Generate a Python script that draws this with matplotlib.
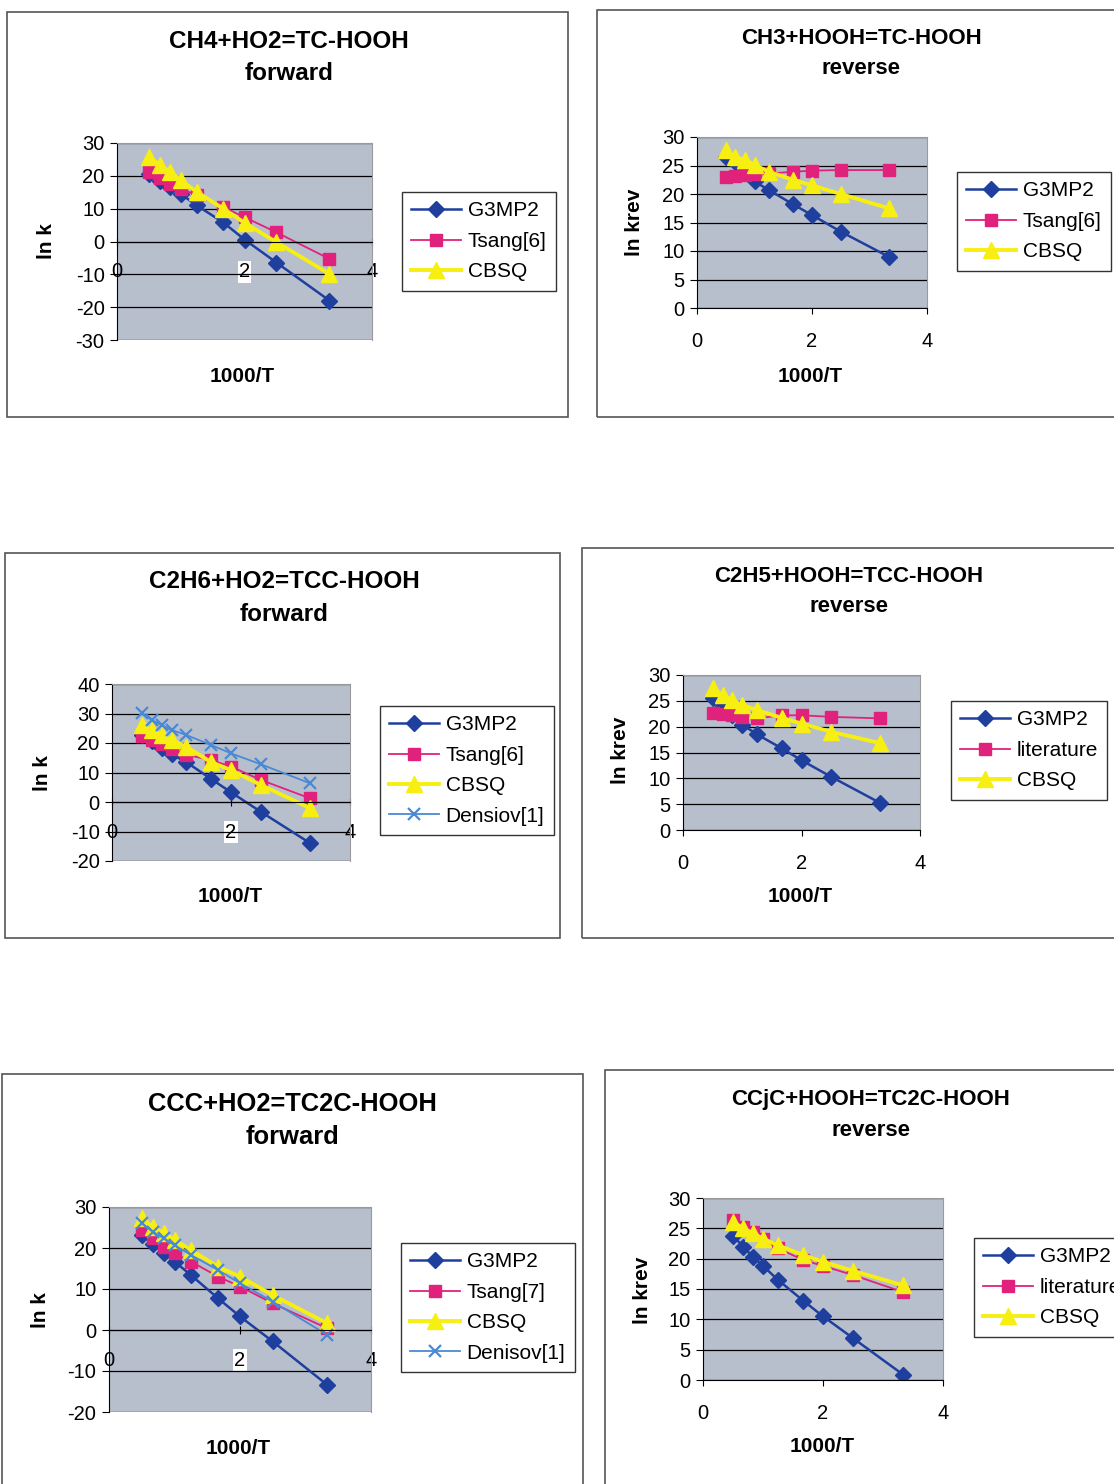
import matplotlib
matplotlib.use('Agg')
import matplotlib.pyplot as plt
from matplotlib.patches import Rectangle

plt.rcParams['font.family'] = ['Liberation Sans', 'DejaVu Sans']
plt.rcParams['axes.unicode_minus'] = False

W, H = 1114, 1484

# 1000/T values (T = 2000 ... 300 K)
x = [0.5, 0.667, 0.833, 1.0, 1.25, 1.667, 2.0, 2.5, 3.333]

# CH4+HO2=TC-HOOH forward
p1_g3mp2 = [20.5, 18.5, 16.5, 14.5, 11.0, 5.8, 0.6, -6.4, -18.0]
p1_tsang = [21.2, 19.2, 17.6, 16.1, 14.1, 10.5, 7.4, 2.8, -5.3]
p1_cbsq = [25.8, 23.4, 21.2, 18.7, 15.1, 10.0, 5.7, -0.2, -9.9]

# CH3+HOOH=TC-HOOH reverse
p2_g3mp2 = [26.5, 25.7, 24.0, 22.2, 20.7, 18.2, 16.3, 13.4, 9.0]
p2_tsang = [23.0, 23.2, 23.3, 23.5, 23.6, 23.9, 24.1, 24.2, 24.2]
p2_cbsq = [27.7, 26.5, 26.0, 25.1, 23.9, 22.5, 21.5, 20.0, 17.5]

# C2H6+HO2=TCC-HOOH forward
p3_g3mp2 = [22.8, 20.6, 18.4, 16.2, 13.5, 7.8, 3.3, -3.3, -14.0]
p3_tsang = [22.5, 21.0, 19.5, 18.0, 16.0, 14.2, 12.0, 7.5, 1.2]
p3_cbsq = [26.1, 24.4, 22.7, 21.0, 18.7, 13.5, 10.8, 5.8, -2.1]
p3_denisov = [30.1, 27.8, 26.1, 24.4, 22.7, 19.3, 16.5, 12.8, 6.3]

# C2H5+HOOH=TCC-HOOH reverse
p4_g3mp2 = [25.5, 24.0, 22.3, 20.4, 18.5, 15.8, 13.5, 10.3, 5.2]
p4_lit = [22.6, 22.4, 22.2, 21.9, 21.6, 22.2, 22.2, 21.9, 21.6]
p4_cbsq = [27.4, 26.1, 25.1, 24.2, 23.2, 21.7, 20.6, 19.0, 16.8]

# CCC+HO2=TC2C-HOOH forward
p5_g3mp2 = [23.2, 20.9, 18.9, 16.7, 13.4, 7.7, 3.3, -2.8, -13.4]
p5_tsang = [24.4, 22.4, 20.3, 18.7, 16.7, 13.0, 10.6, 6.5, 0.4]
p5_cbsq = [27.2, 25.2, 23.6, 22.0, 19.5, 15.4, 13.0, 8.5, 1.6]
p5_denisov = [26.0, 24.0, 22.4, 20.7, 18.3, 14.6, 11.4, 6.9, -1.2]

# CCjC+HOOH=TC2C-HOOH reverse
p6_g3mp2 = [23.8, 22.0, 20.3, 18.8, 16.5, 13.1, 10.5, 6.9, 0.9]
p6_lit = [26.4, 25.3, 24.4, 23.3, 21.7, 19.8, 18.8, 17.3, 14.5]
p6_cbsq = [26.1, 25.0, 24.2, 23.3, 22.2, 20.6, 19.5, 18.0, 15.6]

styles = {
    'G3MP2': dict(color='#1f3f9f', marker='D', ms=8, lw=1.8),
    'Tsang': dict(color='#e0227c', marker='s', ms=9, lw=1.3),
    'CBSQ': dict(color='#f7ef12', marker='^', ms=11, lw=2.8),
    'Denisov': dict(color='#4a8ad4', marker='x', ms=9, mew=1.6, lw=1.3),
}


def fx(px):
    return px / W


def fy(py):
    return 1 - py / H


def panel(box, plot, title, sub, tpos, tsize, ylab, ylpos, xlpos, leg_xy,
          series, ylim, ystep, cross0):
    # outer chart border
    fig.add_artist(Rectangle((fx(box[0]), fy(box[3])), fx(box[2] - box[0]),
                             (box[3] - box[1]) / H, transform=fig.transFigure,
                             fill=False, ec='#555555', lw=1.2))
    fig.text(fx(tpos[0]), fy(tpos[1]), title, ha='center', va='center',
             fontsize=tsize, fontweight='bold')
    fig.text(fx(tpos[0]), fy(tpos[2]), sub, ha='center', va='center',
             fontsize=tsize, fontweight='bold')
    fig.text(fx(ylpos[0]), fy(ylpos[1]), ylab, rotation=90, ha='center',
             va='center', fontsize=15, fontweight='bold')
    fig.text(fx(xlpos[0]), fy(xlpos[1]), '1000/T', ha='center', va='center',
             fontsize=15, fontweight='bold')

    ax = fig.add_axes([fx(plot[0]), fy(plot[3]), fx(plot[2] - plot[0]),
                       (plot[3] - plot[1]) / H])
    ax.set_facecolor('#b7bfcd')
    for name, key, vals in series:
        ax.plot(x, vals, label=name, **styles[key])
    ax.set_xlim(0, 4)
    ax.set_ylim(*ylim)
    ax.set_xticks([0, 2, 4])
    ax.set_yticks(range(ylim[0], ylim[1] + 1, ystep))
    ax.grid(axis='y', color='black', lw=0.9)
    ax.set_axisbelow(True)
    for s in ['top', 'right']:
        ax.spines[s].set_color('#9a9a9a')
    ax.tick_params(axis='y', direction='out', length=5, labelsize=14.5, pad=4)
    if cross0:
        ax.spines['bottom'].set_position(('data', 0))
        ax.tick_params(axis='x', direction='inout', length=6, labelsize=14.5,
                       pad=12)
        ax.get_xticklabels()[1].set_bbox(dict(fc='white', ec='none', pad=1))
    else:
        ax.tick_params(axis='x', direction='out', length=4, labelsize=14.5,
                       pad=13)

    ax.legend(loc='upper left', bbox_to_anchor=(fx(leg_xy[0]), fy(leg_xy[1])),
              bbox_transform=fig.transFigure, borderaxespad=0, fontsize=15,
              frameon=True, fancybox=False, edgecolor='#333333',
              framealpha=1, handlelength=2.4, handletextpad=0.3,
              labelspacing=0.55, borderpad=0.45)
    return ax


fig = plt.figure(figsize=(W / 100, H / 100), dpi=100)

panel((7, 12, 568, 417), (117, 143, 372, 340), 'CH4+HO2=TC-HOOH', 'forward',
      (289, 41, 73), 17.5, 'ln k', (47, 241), (242, 376), (402, 192),
      [('G3MP2', 'G3MP2', p1_g3mp2), ('Tsang[6]', 'Tsang', p1_tsang),
       ('CBSQ', 'CBSQ', p1_cbsq)], (-30, 30), 10, True)

panel((597, 10, 1125, 417), (697, 137, 927, 308), 'CH3+HOOH=TC-HOOH', 'reverse',
      (861, 39, 69), 16, 'ln krev', (635, 222), (810, 376), (957, 172),
      [('G3MP2', 'G3MP2', p2_g3mp2), ('Tsang[6]', 'Tsang', p2_tsang),
       ('CBSQ', 'CBSQ', p2_cbsq)], (0, 30), 5, False)

panel((5, 553, 560, 938), (112, 684, 350, 861), 'C2H6+HO2=TCC-HOOH', 'forward',
      (284, 581, 614), 17.5, 'ln k', (43, 773), (230, 897), (380, 706),
      [('G3MP2', 'G3MP2', p3_g3mp2), ('Tsang[6]', 'Tsang', p3_tsang),
       ('CBSQ', 'CBSQ', p3_cbsq), ('Densiov[1]', 'Denisov', p3_denisov)],
      (-20, 40), 10, True)

panel((582, 548, 1125, 938), (683, 675, 920, 830), 'C2H5+HOOH=TCC-HOOH', 'reverse',
      (849, 576, 607), 16, 'ln krev', (621, 750), (800, 897), (951, 701),
      [('G3MP2', 'G3MP2', p4_g3mp2), ('literature', 'Tsang', p4_lit),
       ('CBSQ', 'CBSQ', p4_cbsq)], (0, 30), 5, False)

panel((2, 1074, 583, 1495), (109, 1207, 371, 1412), 'CCC+HO2=TC2C-HOOH', 'forward',
      (292, 1104, 1137), 18.4, 'ln k', (40, 1310), (238, 1448), (401, 1243),
      [('G3MP2', 'G3MP2', p5_g3mp2), ('Tsang[7]', 'Tsang', p5_tsang),
       ('CBSQ', 'CBSQ', p5_cbsq), ('Denisov[1]', 'Denisov', p5_denisov)],
      (-20, 30), 10, True)

panel((605, 1070, 1125, 1495), (703, 1198, 943, 1380), 'CCjC+HOOH=TC2C-HOOH', 'reverse',
      (871, 1099, 1130), 16, 'ln krev', (643, 1290), (822, 1447), (974, 1238),
      [('G3MP2', 'G3MP2', p6_g3mp2), ('literature', 'Tsang', p6_lit),
       ('CBSQ', 'CBSQ', p6_cbsq)], (0, 30), 5, False)

fig.savefig('out.png', dpi=100)
